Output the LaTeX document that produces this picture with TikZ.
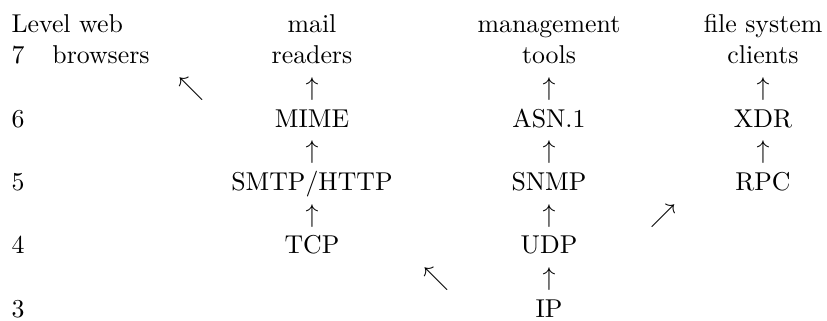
\documentclass[tikz,border=0pt]{standalone}
\begin{document}
\begin{tikzpicture}[x=0.3876pt,y=-0.3876pt,
  lbl/.style={anchor=base,inner sep=0pt},
  lvl/.style={anchor=base west,inner sep=0pt},
  arr/.style={anchor=base,inner sep=0pt}]
\useasboundingbox (0,0) rectangle (827,320);
% row: header
\node[lvl] (lvhead) at (11,32) {Level};
\node[lbl] (web) at (101,32) {web};
\node[lbl] (mail) at (312,32) {mail};
\node[lbl] (mgmt) at (549,32) {management};
\node[lbl] (fs) at (763,32) {file system};
% level 7
\node[lvl] (l7) at (11,63.7) {7};
\node[lbl] (browsers) at (101,63.7) {browsers};
\node[lbl] (readers) at (312,63.7) {readers};
\node[lbl] (tools) at (549,63.7) {tools};
\node[lbl] (clients) at (763,63.7) {clients};
% arrows
\node[arr] (a1) at (191,95.4) {$\nwarrow$};
\node[arr] (a2) at (312,95.4) {$\uparrow$};
\node[arr] (a3) at (549,95.4) {$\uparrow$};
\node[arr] (a4) at (763,95.4) {$\uparrow$};
% level 6
\node[lvl] (l6) at (11,127.1) {6};
\node[lbl] (mime) at (312,127.1) {MIME};
\node[lbl] (asn) at (549,127.1) {ASN.1};
\node[lbl] (xdr) at (763,127.1) {XDR};
% arrows
\node[arr] (b1) at (312,158.8) {$\uparrow$};
\node[arr] (b2) at (549,158.8) {$\uparrow$};
\node[arr] (b3) at (763,158.8) {$\uparrow$};
% level 5
\node[lvl] (l5) at (11,190.5) {5};
\node[lbl] (smtp) at (312,190.5) {SMTP/HTTP};
\node[lbl] (snmp) at (549,190.5) {SNMP};
\node[lbl] (rpc) at (763,190.5) {RPC};
% arrows
\node[arr] (c1) at (312,222.2) {$\uparrow$};
\node[arr] (c2) at (549,222.2) {$\uparrow$};
\node[arr] (c3) at (663,222.2) {$\nearrow$};
% level 4
\node[lvl] (l4) at (11,253.9) {4};
\node[lbl] (tcp) at (312,253.9) {TCP};
\node[lbl] (udp) at (549,253.9) {UDP};
% arrows
\node[arr] (d1) at (436,285.6) {$\nwarrow$};
\node[arr] (d2) at (549,285.6) {$\uparrow$};
% level 3
\node[lvl] (l3) at (11,317.3) {3};
\node[lbl] (ip) at (549,317.3) {IP};
\end{tikzpicture}
\end{document}
